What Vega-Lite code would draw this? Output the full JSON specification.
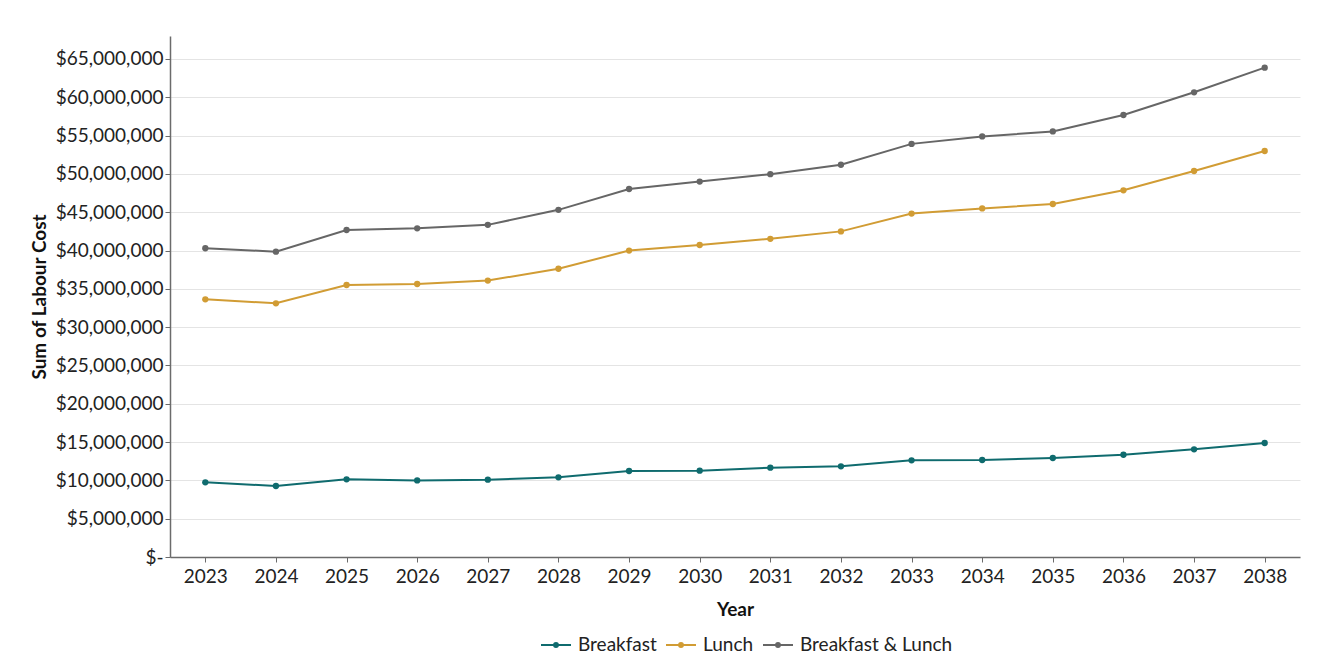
{
  "$schema": "https://vega.github.io/schema/vega-lite/v6.json",
  "width": 1130,
  "height": 521,
  "autosize": {"type": "none"},
  "padding": {"left": 170, "top": 36, "right": 40, "bottom": 114},
  "background": "#ffffff",
  "config": {
    "font": "Lato",
    "view": {"stroke": null},
    "axis": {
      "labelFont": "Lato",
      "labelFontSize": 19,
      "labelColor": "#222222",
      "titleFont": "Lato",
      "titleFontSize": 19,
      "titleFontWeight": "bold",
      "titleColor": "#111111",
      "domainColor": "#6b6b6b",
      "domainWidth": 1.5,
      "tickColor": "#6b6b6b",
      "tickSize": 5,
      "gridColor": "#e4e4e4",
      "gridWidth": 1
    },
    "legend": {
      "labelFont": "Lato",
      "labelFontSize": 19,
      "labelColor": "#222222"
    }
  },
  "data": {
    "values": [
      {"year": "2023", "meal": "Breakfast", "cost": 9750000},
      {"year": "2024", "meal": "Breakfast", "cost": 9270000},
      {"year": "2025", "meal": "Breakfast", "cost": 10140000},
      {"year": "2026", "meal": "Breakfast", "cost": 9990000},
      {"year": "2027", "meal": "Breakfast", "cost": 10090000},
      {"year": "2028", "meal": "Breakfast", "cost": 10400000},
      {"year": "2029", "meal": "Breakfast", "cost": 11220000},
      {"year": "2030", "meal": "Breakfast", "cost": 11270000},
      {"year": "2031", "meal": "Breakfast", "cost": 11660000},
      {"year": "2032", "meal": "Breakfast", "cost": 11830000},
      {"year": "2033", "meal": "Breakfast", "cost": 12620000},
      {"year": "2034", "meal": "Breakfast", "cost": 12660000},
      {"year": "2035", "meal": "Breakfast", "cost": 12920000},
      {"year": "2036", "meal": "Breakfast", "cost": 13350000},
      {"year": "2037", "meal": "Breakfast", "cost": 14050000},
      {"year": "2038", "meal": "Breakfast", "cost": 14880000},
      {"year": "2023", "meal": "Lunch", "cost": 33630000},
      {"year": "2024", "meal": "Lunch", "cost": 33110000},
      {"year": "2025", "meal": "Lunch", "cost": 35500000},
      {"year": "2026", "meal": "Lunch", "cost": 35630000},
      {"year": "2027", "meal": "Lunch", "cost": 36080000},
      {"year": "2028", "meal": "Lunch", "cost": 37620000},
      {"year": "2029", "meal": "Lunch", "cost": 39990000},
      {"year": "2030", "meal": "Lunch", "cost": 40720000},
      {"year": "2031", "meal": "Lunch", "cost": 41530000},
      {"year": "2032", "meal": "Lunch", "cost": 42500000},
      {"year": "2033", "meal": "Lunch", "cost": 44820000},
      {"year": "2034", "meal": "Lunch", "cost": 45500000},
      {"year": "2035", "meal": "Lunch", "cost": 46070000},
      {"year": "2036", "meal": "Lunch", "cost": 47860000},
      {"year": "2037", "meal": "Lunch", "cost": 50380000},
      {"year": "2038", "meal": "Lunch", "cost": 52990000},
      {"year": "2023", "meal": "Breakfast & Lunch", "cost": 40300000},
      {"year": "2024", "meal": "Breakfast & Lunch", "cost": 39850000},
      {"year": "2025", "meal": "Breakfast & Lunch", "cost": 42680000},
      {"year": "2026", "meal": "Breakfast & Lunch", "cost": 42900000},
      {"year": "2027", "meal": "Breakfast & Lunch", "cost": 43350000},
      {"year": "2028", "meal": "Breakfast & Lunch", "cost": 45310000},
      {"year": "2029", "meal": "Breakfast & Lunch", "cost": 48030000},
      {"year": "2030", "meal": "Breakfast & Lunch", "cost": 49000000},
      {"year": "2031", "meal": "Breakfast & Lunch", "cost": 49970000},
      {"year": "2032", "meal": "Breakfast & Lunch", "cost": 51200000},
      {"year": "2033", "meal": "Breakfast & Lunch", "cost": 53920000},
      {"year": "2034", "meal": "Breakfast & Lunch", "cost": 54890000},
      {"year": "2035", "meal": "Breakfast & Lunch", "cost": 55550000},
      {"year": "2036", "meal": "Breakfast & Lunch", "cost": 57690000},
      {"year": "2037", "meal": "Breakfast & Lunch", "cost": 60650000},
      {"year": "2038", "meal": "Breakfast & Lunch", "cost": 63870000}
    ]
  },
  "mark": {"type": "line", "strokeWidth": 2, "point": {"filled": true, "size": 40}},
  "encoding": {
    "x": {
      "field": "year",
      "type": "ordinal",
      "title": "Year",
      "scale": {"type": "point", "padding": 0.5},
      "axis": {"labelAngle": 0, "grid": false, "labelPadding": 5, "titlePadding": 14}
    },
    "y": {
      "field": "cost",
      "type": "quantitative",
      "title": "Sum of Labour Cost",
      "scale": {"domain": [0, 68000000], "nice": false, "zero": true},
      "axis": {
        "values": [0, 5000000, 10000000, 15000000, 20000000, 25000000, 30000000, 35000000, 40000000, 45000000, 50000000, 55000000, 60000000, 65000000],
        "labelExpr": "datum.value == 0 ? '$-' : '$' + format(datum.value, ',.0f')",
        "labelPadding": 2,
        "titlePadding": 6
      }
    },
    "color": {
      "field": "meal",
      "type": "nominal",
      "title": null,
      "scale": {
        "domain": ["Breakfast", "Lunch", "Breakfast & Lunch"],
        "range": ["#0f6b6e", "#d19c34", "#666666"]
      },
      "legend": {
        "orient": "none",
        "legendX": 370,
        "legendY": 593,
        "direction": "horizontal",
        "symbolType": "M-1,0H1M-0.13,0A0.13,0.13,0,1,1,0.13,0A0.13,0.13,0,1,1,-0.13,0M-0.05,0A0.05,0.05,0,1,1,0.05,0A0.05,0.05,0,1,1,-0.05,0",
        "symbolSize": 900,
        "symbolStrokeWidth": 2,
        "labelOffset": 6,
        "columnPadding": 5
      }
    }
  }
}
